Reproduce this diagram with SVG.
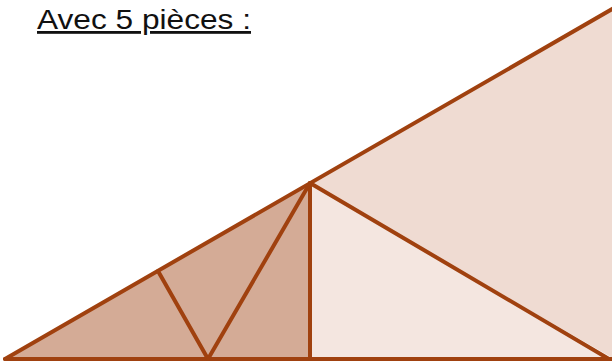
<svg xmlns="http://www.w3.org/2000/svg" width="612" height="363" viewBox="0 0 612 363">
<style>
.e{stroke:#a0410f;stroke-width:4;fill:none;stroke-linecap:round;stroke-linejoin:round}
.t{font-family:"Liberation Sans",Arial,sans-serif;font-size:28px;fill:#111}
</style>
<rect width="612" height="363" fill="#ffffff"/>
<g id="piece-upper"><polygon points="310,183 614,8 614,359" fill="#efdbd2"/></g>
<g id="piece-lower-right"><polygon points="310,183 310,359 609,359" fill="#f4e6e0"/></g>
<g id="piece-left"><polygon points="5,359 310,183 310,359" fill="#d4ab96"/></g>
<g id="connectors">
<line class="e" x1="5" y1="359" x2="614" y2="8"/>
<line class="e" x1="5" y1="359" x2="612" y2="359"/>
<line class="e" x1="310" y1="183" x2="310" y2="359"/>
<line class="e" x1="310" y1="183" x2="609" y2="359"/>
<line class="e" x1="158" y1="271" x2="208" y2="359"/>
<line class="e" x1="208" y1="359" x2="310" y2="183"/>
</g>
<g id="title"><text class="t" x="37" y="29" textLength="214" lengthAdjust="spacingAndGlyphs" text-decoration="underline">Avec 5 pièces :</text></g>
</svg>
